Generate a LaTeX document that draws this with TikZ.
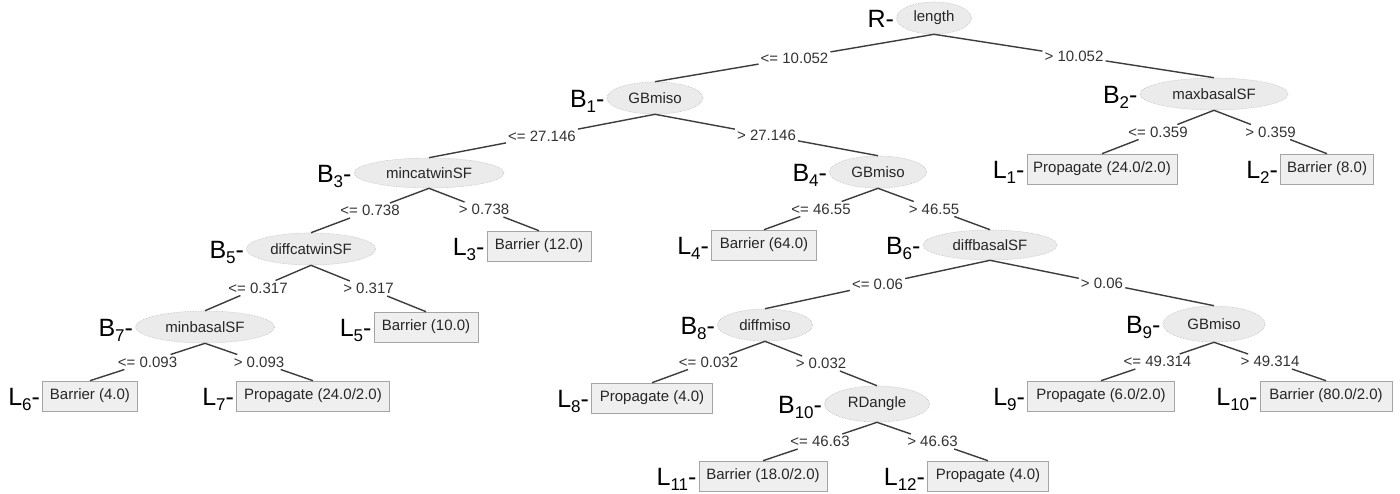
\documentclass[tikz,border=0pt]{standalone}
\usepackage{fontspec}
\setmainfont{Liberation Sans}
\usetikzlibrary{calc,shapes.geometric}
\definecolor{edgecol}{HTML}{3C3C3C}
\definecolor{ellfill}{HTML}{EBEBEB}
\definecolor{elldraw}{HTML}{BDBDBD}
\definecolor{boxfill}{HTML}{EFEFEF}
\definecolor{boxdraw}{HTML}{A5A5A5}
\definecolor{labtext}{HTML}{333333}
\newcommand{\nsub}[1]{\raisebox{-5pt}{\fontsize{17}{20}\selectfont #1}}
\newcommand{\treeedge}[4]{%
  \node[cond] (#4) at ($(#1.south)!0.5!(#2.north)$) {#3};
  \draw[edge] (#1.south) -- (#4);
  \draw[edge] (#4) -- (#2.north);}
\begin{document}
\begin{tikzpicture}[x=1pt,y=-1pt,
  split/.style={ellipse,fill=ellfill,draw=elldraw,densely dotted,line width=0.6pt,inner sep=0pt,
    minimum height=32pt,font=\fontsize{15}{18}\selectfont,text=black!85},
  leaf/.style={rectangle,fill=boxfill,draw=boxdraw,line width=0.6pt,inner sep=0pt,
    minimum height=30pt,font=\fontsize{15}{18}\selectfont,text=black!85},
  cond/.style={fill=white,inner sep=2pt,font=\fontsize{15}{18}\selectfont,text=labtext},
  edge/.style={draw=edgecol,line width=1.4pt},
  tag/.style={anchor=base east,inner sep=0pt,xshift=-2pt,yshift=-9pt,font=\fontsize{25}{30}\selectfont}
]
\useasboundingbox[fill=white] (0,0) rectangle (1400,493);
% split nodes
\node[split,minimum width=75pt] (R) at (934,18) {length};
\node[split,minimum width=96pt] (B1) at (655,98) {GBmiso};
\node[split,minimum width=148pt] (B2) at (1214,94) {maxbasalSF};
\node[split,minimum width=150pt,minimum height=30pt] (B3) at (429,173) {mincatwinSF};
\node[split,minimum width=97pt] (B4) at (878,172) {GBmiso};
\node[split,minimum width=129pt] (B5) at (311,249) {diffcatwinSF};
\node[split,minimum width=134pt,minimum height=30pt] (B6) at (990,245) {diffbasalSF};
\node[split,minimum width=139pt] (B7) at (205,327) {minbasalSF};
\node[split,minimum width=95pt] (B8) at (765,325) {diffmiso};
\node[split,minimum width=102pt,minimum height=36pt] (B9) at (1214,324) {GBmiso};
\node[split,minimum width=105pt,minimum height=36pt] (B10) at (877,404) {RDangle};
% leaves
\node[leaf,minimum width=150pt] (L1) at (1102,169) {Propagate (24.0/2.0)};
\node[leaf,minimum width=93pt] (L2) at (1327,169) {Barrier (8.0)};
\node[leaf,minimum width=104pt] (L3) at (539,246) {Barrier (12.0)};
\node[leaf,minimum width=105pt] (L4) at (764,245) {Barrier (64.0)};
\node[leaf,minimum width=104pt] (L5) at (426,327) {Barrier (10.0)};
\node[leaf,minimum width=95pt] (L6) at (90,396) {Barrier (4.0)};
\node[leaf,minimum width=153pt] (L7) at (313,396) {Propagate (24.0/2.0)};
\node[leaf,minimum width=121pt] (L8) at (652,398) {Propagate (4.0)};
\node[leaf,minimum width=147pt] (L9) at (1101,396) {Propagate (6.0/2.0)};
\node[leaf,minimum width=132pt] (L10) at (1326,396) {Barrier (80.0/2.0)};
\node[leaf,minimum width=128pt] (L11) at (763,476) {Barrier (18.0/2.0)};
\node[leaf,minimum width=121pt] (L12) at (988,476) {Propagate (4.0)};
% tags
\node[tag] (tR) at (R.west) {R-};
\node[tag] (tB1) at (B1.west) {B\nsub{1}-};
\node[tag] (tB2) at (B2.west) {B\nsub{2}-};
\node[tag] (tB3) at (B3.west) {B\nsub{3}-};
\node[tag] (tB4) at (B4.west) {B\nsub{4}-};
\node[tag] (tB5) at (B5.west) {B\nsub{5}-};
\node[tag] (tB6) at (B6.west) {B\nsub{6}-};
\node[tag] (tB7) at (B7.west) {B\nsub{7}-};
\node[tag] (tB8) at (B8.west) {B\nsub{8}-};
\node[tag] (tB9) at (B9.west) {B\nsub{9}-};
\node[tag] (tB10) at (B10.west) {B\nsub{10}-};
\node[tag] (tL1) at (L1.west) {L\nsub{1}-};
\node[tag] (tL2) at (L2.west) {L\nsub{2}-};
\node[tag] (tL3) at (L3.west) {L\nsub{3}-};
\node[tag] (tL4) at (L4.west) {L\nsub{4}-};
\node[tag] (tL5) at (L5.west) {L\nsub{5}-};
\node[tag] (tL6) at (L6.west) {L\nsub{6}-};
\node[tag] (tL7) at (L7.west) {L\nsub{7}-};
\node[tag] (tL8) at (L8.west) {L\nsub{8}-};
\node[tag] (tL9) at (L9.west) {L\nsub{9}-};
\node[tag] (tL10) at (L10.west) {L\nsub{10}-};
\node[tag] (tL11) at (L11.west) {L\nsub{11}-};
\node[tag] (tL12) at (L12.west) {L\nsub{12}-};
% edges
\treeedge{R}{B1}{<= 10.052}{c1}
\treeedge{R}{B2}{> 10.052}{c2}
\treeedge{B1}{B3}{<= 27.146}{c3}
\treeedge{B1}{B4}{> 27.146}{c4}
\treeedge{B2}{L1}{<= 0.359}{c5}
\treeedge{B2}{L2}{> 0.359}{c6}
\treeedge{B3}{B5}{<= 0.738}{c7}
\treeedge{B3}{L3}{> 0.738}{c8}
\treeedge{B4}{L4}{<= 46.55}{c9}
\treeedge{B4}{B6}{> 46.55}{c10}
\treeedge{B5}{B7}{<= 0.317}{c11}
\treeedge{B5}{L5}{> 0.317}{c12}
\treeedge{B6}{B8}{<= 0.06}{c13}
\treeedge{B6}{B9}{> 0.06}{c14}
\treeedge{B7}{L6}{<= 0.093}{c15}
\treeedge{B7}{L7}{> 0.093}{c16}
\treeedge{B8}{L8}{<= 0.032}{c17}
\treeedge{B8}{B10}{> 0.032}{c18}
\treeedge{B9}{L9}{<= 49.314}{c19}
\treeedge{B9}{L10}{> 49.314}{c20}
\treeedge{B10}{L11}{<= 46.63}{c21}
\treeedge{B10}{L12}{> 46.63}{c22}
\end{tikzpicture}
\end{document}
